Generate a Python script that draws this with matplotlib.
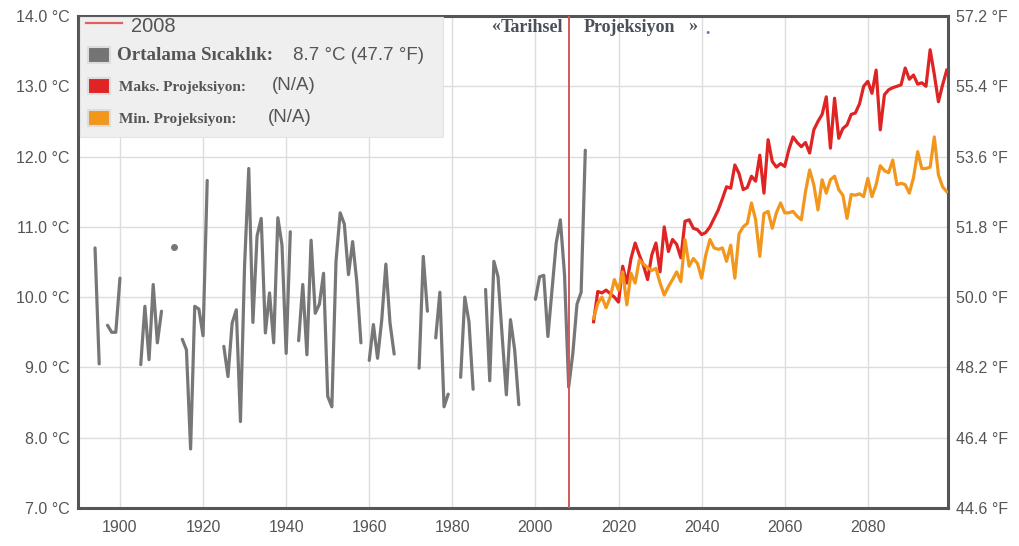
import numpy as np
import matplotlib
matplotlib.use("Agg")
import matplotlib.pyplot as plt
from matplotlib.patches import Rectangle
from matplotlib.lines import Line2D

# ---------------- data ----------------
hist_years = list(range(1894, 2013))
nan = np.nan
hist_temp = [
    10.7, 9.05, nan, 9.6, 9.5, 9.5, 10.27,            # 1894-1900
    nan, nan, nan, nan,                               # 1901-1904
    9.04, 9.87, 9.11, 10.18, 9.35, 9.8,               # 1905-1910
    nan, nan, 10.71, nan,                             # 1911-1914
    9.4, 9.25, 7.84, 9.87, 9.83, 9.45, 11.66,         # 1915-1921
    nan, nan, nan,                                    # 1922-1924
    9.3, 8.87, 9.63, 9.82, 8.23, 10.46, 11.83, 9.64,  # 1925-1932
    10.87, 11.12, 9.49, 10.06, 9.35, 11.13, 10.74,    # 1933-1939
    9.2, 10.93, nan,                                  # 1940-1942
    9.38, 10.18, 9.18, 10.81, 9.77, 9.9, 10.34,       # 1943-1949
    8.59, 8.44, 10.51, 11.2, 11.04, 10.32, 10.79,     # 1950-1956
    10.22, 9.35, nan,                                 # 1957-1959
    9.1, 9.61, 9.13, 9.67, 10.47, 9.63, 9.19,         # 1960-1966
    nan, nan, nan, nan, nan,                          # 1967-1971
    8.99, 10.58, 9.8, nan, 9.42, 10.07, 8.44, 8.62,   # 1972-1979
    nan, nan,                                         # 1980-1981
    8.86, 10.0, 9.65, 8.69, nan, nan,                 # 1982-1987
    10.11, 8.81, 10.51, 10.29, 9.44, 8.61, 9.68,      # 1988-1994
    9.25, 8.47, nan, nan, nan,                        # 1995-1999
    9.97, 10.29, 10.31, 9.44, 10.11, 10.77, 11.1,     # 2000-2006
    10.32, 8.72, 9.2, 9.9, 10.07, 12.09,              # 2007-2012
]

proj_years = list(range(2014, 2100))
max_proj = [
    9.65, 10.08, 10.06, 10.1, 10.05, 10.0, 9.93, 10.44, 10.2, 10.55,     # 2014-2023
    10.77, 10.6, 10.45, 10.25, 10.6, 10.77, 10.36, 11.0, 10.65, 10.82,   # 2024-2033
    10.75, 10.56, 11.08, 11.1, 10.98, 10.96, 10.89, 10.92, 11.0, 11.12,  # 2034-2043
    11.24, 11.4, 11.57, 11.55, 11.88, 11.76, 11.53, 11.56, 11.72, 11.65, # 2044-2053
    12.02, 11.48, 12.24, 11.93, 11.85, 11.9, 11.86, 12.1, 12.28, 12.2,   # 2054-2063
    12.14, 12.2, 12.05, 12.38, 12.5, 12.6, 12.85, 12.12, 12.83, 12.26,   # 2064-2073
    12.4, 12.45, 12.6, 12.62, 12.75, 13.0, 13.07, 12.9, 13.23, 12.38,    # 2074-2083
    12.88, 12.95, 12.98, 13.0, 13.02, 13.26, 13.1, 13.16, 13.03, 13.05,  # 2084-2093
    13.0, 13.52, 13.17, 12.78, 13.02, 13.23,                             # 2094-2099
]
min_proj = [
    9.7, 9.91, 10.0, 9.85, 10.0, 10.25, 10.1, 10.36, 9.89, 10.34,        # 2014-2023
    10.2, 10.53, 10.47, 10.42, 10.38, 10.41, 10.2, 10.03, 10.15, 10.25,  # 2024-2033
    10.36, 10.22, 10.82, 10.44, 10.55, 10.48, 10.27, 10.6, 10.82, 10.7,  # 2034-2043
    10.68, 10.7, 10.51, 10.74, 10.27, 10.9, 11.0, 11.05, 11.34, 11.1,    # 2044-2053
    10.58, 11.19, 11.22, 10.98, 11.2, 11.34, 11.2, 11.2, 11.22, 11.15,   # 2054-2063
    11.1, 11.5, 11.81, 11.6, 11.24, 11.67, 11.48, 11.67, 11.72, 11.53,   # 2064-2073
    11.45, 11.12, 11.46, 11.45, 11.47, 11.43, 11.69, 11.43, 11.6, 11.87, # 2074-2083
    11.8, 11.77, 11.95, 11.6, 11.62, 11.6, 11.48, 11.7, 12.07, 11.83,    # 2084-2093
    11.83, 11.85, 12.28, 11.74, 11.57, 11.5,                             # 2094-2099
]

marker_year = 2008
c_ticks = [7.0, 8.0, 9.0, 10.0, 11.0, 12.0, 13.0, 14.0]
x_ticks = list(range(1900, 2100, 20))

legend_year_label = "2008"
legend_avg_label = "Ortalama Sıcaklık:"
legend_avg_value = "8.7 °C (47.7 °F)"
legend_max_label = "Maks. Projeksiyon:"
legend_min_label = "Min. Projeksiyon:"
legend_na = "(N/A)"
header_text = ("«", "Tarihsel", "Projeksiyon", "»", ".")

# ---------------- figure ----------------
W, H = 1019, 546
fig = plt.figure(figsize=(W / 100, H / 100), dpi=100)
fig.patch.set_facecolor("white")

def fx(x):
    return x / W

def fy(y):
    return 1 - y / H

L, R, T, B = 78, 948, 16, 508
ax = fig.add_axes([fx(L), fy(B), (R - L) / W, (B - T) / H])
ax.set_xlim(1889.9, 2099.3)
ax.set_ylim(7.0, 14.0)

grid_c = "#dcdcdc"
ax.set_yticks(c_ticks)
ax.set_xticks(x_ticks)
ax.grid(True, color=grid_c, linewidth=1.0)
ax.set_axisbelow(True)

tick_font = dict(family="Liberation Sans", size=11.5, color="#555555")
ax.set_yticklabels([f"{v:.1f} °C" for v in c_ticks], fontdict=tick_font)
ax.set_xticklabels([str(v) for v in x_ticks], fontdict=tick_font)
ax.tick_params(axis="both", length=0)
ax.tick_params(axis="y", pad=6)
ax.tick_params(axis="x", pad=9)

for s in ax.spines.values():
    s.set_color("#555555")
    s.set_linewidth(2.2)

# right Fahrenheit axis
ax2 = ax.twinx()
ax2.set_ylim(7.0 * 1.8 + 32, 14.0 * 1.8 + 32)
f_ticks = [c * 1.8 + 32 for c in c_ticks]
ax2.set_yticks(f_ticks)
ax2.set_yticklabels([f"{v:.1f} °F" for v in f_ticks], fontdict=tick_font)
ax2.tick_params(axis="y", length=0, pad=6)
for s in ax2.spines.values():
    s.set_visible(False)

# historical series
hy = np.array(hist_years, dtype=float)
ht = np.array(hist_temp, dtype=float)
ax.plot(hy, ht, color="#777777", linewidth=2.3, solid_capstyle="round",
        solid_joinstyle="round", zorder=3)
# isolated points (no neighbours) shown as dots
iso = []
for i in range(len(ht)):
    if np.isnan(ht[i]):
        continue
    prev_nan = i == 0 or np.isnan(ht[i - 1])
    next_nan = i == len(ht) - 1 or np.isnan(ht[i + 1])
    if prev_nan and next_nan:
        iso.append(i)
ax.plot(hy[iso], ht[iso], linestyle="none", marker="o", markersize=4,
        color="#777777", zorder=3)

# projections
ax.plot(proj_years, max_proj, color="#e02424", linewidth=2.3,
        solid_joinstyle="round", zorder=4)
ax.plot(proj_years, min_proj, color="#f3961c", linewidth=2.3,
        solid_joinstyle="round", zorder=5)

# 2008 marker line
ax.axvline(marker_year, color="#d05a5a", linewidth=1.4, zorder=6)

# ---------------- legend box (drawn in pixels) ----------------
fig.patches.append(Rectangle((fx(80), fy(137)), fx(443) - fx(80), fy(17) - fy(137),
                             transform=fig.transFigure, facecolor="#efefef",
                             edgecolor="#e4e4e4", linewidth=0.8, zorder=10))

fig.lines.append(Line2D([fx(86), fx(122)], [fy(23), fy(23)], transform=fig.transFigure,
                        color="#e06060", linewidth=1.6, zorder=11))
fig.text(fx(131), fy(26), legend_year_label, family="Liberation Sans", size=14.5,
         color="#555555", va="center", ha="left", zorder=11)

def swatch(y, color):
    fig.patches.append(Rectangle((fx(88), fy(y + 8)), fx(110) - fx(88), fy(y - 8) - fy(y + 8),
                                 transform=fig.transFigure, facecolor=color,
                                 edgecolor="#dddddd", linewidth=1.5, zorder=11))

swatch(55, "#747474")
swatch(86, "#e02424")
swatch(118, "#f3961c")

fig.text(fx(117), fy(56), legend_avg_label, family="Liberation Serif", weight="bold",
         size=13.7, color="#555555", va="center", ha="left", zorder=11)
fig.text(fx(293), fy(56), legend_avg_value, family="Liberation Sans", size=13.5,
         color="#555555", va="center", ha="left", zorder=11)
fig.text(fx(119), fy(88), legend_max_label, family="Liberation Serif", weight="bold",
         size=11, color="#555555", va="center", ha="left", zorder=11)
fig.text(fx(272), fy(86), legend_na, family="Liberation Sans", size=13.5,
         color="#555555", va="center", ha="left", zorder=11)
fig.text(fx(119), fy(120), legend_min_label, family="Liberation Serif", weight="bold",
         size=11, color="#555555", va="center", ha="left", zorder=11)
fig.text(fx(268), fy(118), legend_na, family="Liberation Sans", size=13.5,
         color="#555555", va="center", ha="left", zorder=11)

# header text
hdr = dict(family="Liberation Serif", weight="bold", size=13, color="#4a4f5a",
           va="center", zorder=11)
fig.text(fx(491), fy(26), header_text[0], ha="left", **hdr)
fig.text(fx(501), fy(27), header_text[1], ha="left", **hdr)
fig.text(fx(584), fy(27), header_text[2], ha="left", **hdr)
fig.text(fx(688), fy(26), header_text[3], ha="left", **hdr)
fig.text(fx(705), fy(29), header_text[4], ha="left", **{**hdr, "color": "#5a7ab0"})

fig.savefig("out.png", dpi=100, facecolor="white")
